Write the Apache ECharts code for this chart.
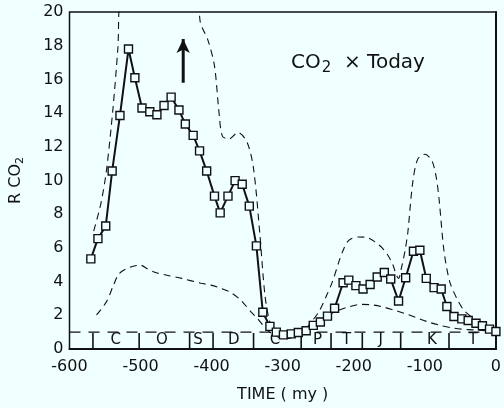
<!DOCTYPE html>
<html>
<head>
<meta charset="utf-8">
<script src="https://cdn.jsdelivr.net/npm/echarts@6/dist/echarts.min.js"></script>
<style>
  html, body { margin: 0; padding: 0; background: #f0ffff; }
  #main { width: 504px; height: 408px; }
</style>
</head>
<body>
<div id="main"></div>
<script>
  // best guess curve, squares (time in my, R CO2)
  var timeMy = [-570, -560, -549, -540, -529, -517, -508, -498, -487, -477,
    -467, -457, -446, -437, -426, -417, -407, -396, -388, -377,
    -367, -357, -347, -337, -328, -318, -309, -299, -288, -278,
    -267, -257, -247, -237, -227, -215, -207, -197, -187, -177,
    -167, -157, -148, -137, -127, -116, -107, -98, -87, -77,
    -69, -59, -48, -39, -28, -19, -9, 0];
  var rco2 = [5.35, 6.55, 7.3, 10.56, 13.86, 17.8, 16.1, 14.3, 14.08, 13.9,
    14.45, 14.95, 14.18, 13.35, 12.68, 11.76, 10.56, 9.07, 8.08, 9.07,
    9.99, 9.78, 8.48, 6.12, 2.18, 1.34, 1.0, 0.84, 0.9, 0.98,
    1.08, 1.4, 1.6, 1.95, 2.42, 3.93, 4.09, 3.76, 3.56, 3.83,
    4.27, 4.54, 4.15, 2.85, 4.23, 5.8, 5.86, 4.19, 3.64, 3.56,
    2.52, 1.93, 1.79, 1.69, 1.53, 1.38, 1.18, 1.04];

  // upper error envelope (dashed), goes off the top between ~-528 and ~-418
  var upperEnv = [[-566, 7.0], [-556, 8.6], [-548, 10.6], [-539, 14.2], [-532, 17.8], [-527, 21],
    [-419, 21], [-416, 19.4], [-405, 18.3], [-396, 16.8], [-390, 14.2], [-385, 12.65], [-376, 12.45],
    [-363, 12.85], [-350, 12.25], [-341, 10.7], [-332, 6.74], [-325, 3.2], [-318, 1.6], [-308, 0.9],
    [-297, 0.65], [-285, 0.75], [-270, 1.1], [-258, 1.7], [-249, 2.22], [-238, 3.2],
    [-230, 4.0], [-221, 5.17], [-216, 5.76], [-207, 6.45], [-193, 6.65], [-180, 6.6],
    [-170, 6.35], [-160, 6.0], [-152, 5.56], [-145, 5.0], [-140, 4.38], [-137, 4.19],
    [-133, 4.8], [-128, 5.8], [-124, 6.9], [-117, 9.9], [-110, 11.27], [-100, 11.56],
    [-90, 11.17], [-84, 10.2], [-80, 8.9], [-73, 5.8], [-65, 4.0], [-55, 3.0], [-45, 2.3],
    [-32, 1.83], [-20, 1.45], [-10, 1.2], [0, 1.04]];

  // lower error envelope (dashed)
  var lowerEnv = [[-562, 2.02], [-548, 2.8], [-538, 3.8], [-530, 4.48], [-515, 4.85], [-500, 4.97],
    [-490, 4.75], [-479, 4.54], [-460, 4.35], [-442, 4.19], [-415, 3.9], [-401, 3.79],
    [-387, 3.6], [-373, 3.35], [-359, 2.9], [-345, 2.22], [-336, 1.83], [-322, 1.14],
    [-309, 0.75], [-298, 0.6], [-285, 0.7], [-270, 1.0], [-253, 1.53], [-240, 1.9],
    [-226, 2.22], [-207, 2.5], [-189, 2.65], [-175, 2.62], [-161, 2.52], [-145, 2.33],
    [-129, 2.12], [-113, 1.88], [-97, 1.63], [-80, 1.42], [-60, 1.24], [-40, 1.15],
    [-23, 1.12], [0, 1.0]];

  var todayLevel = 1;

  // geologic periods strip
  var periodBounds = [-567, -502, -431, -398, -341, -274, -232, -188, -134, -66];
  var periodNames = ['C', 'O', 'S', 'D', 'C', 'P', 'T', 'J', 'K', 'T'];
  var periodLabelX = [-535, -470, -419, -369, -311, -251, -210, -162, -90, -32];

  var xTicks = [-600, -500, -400, -300, -200, -100, 0];
  var yTicks = [0, 2, 4, 6, 8, 10, 12, 14, 16, 18, 20];

  var ink = '#111';
  var font = 'DejaVu Sans';

  var myChart = echarts.init(document.getElementById('main'));

  var option = {
    backgroundColor: '#f0ffff',
    animation: false,
    title: {
      text: '{a|CO}{s|2}{a|  × Today}',
      left: 286,
      top: 46,
      textStyle: {
        fontWeight: 'normal',
        rich: {
          a: { fontFamily: font, fontSize: 20, fontWeight: 'normal', color: ink, lineHeight: 24 },
          s: { fontFamily: font, fontSize: 15, fontWeight: 'normal', color: ink, lineHeight: 24, padding: [10, 0, 0, 1] }
        }
      }
    },
    grid: {
      left: 66, right: 4, top: 12, bottom: 57,
      show: true, borderColor: ink, borderWidth: 1.5
    },
    xAxis: {
      type: 'value',
      min: xTicks[0], max: xTicks[xTicks.length - 1], interval: 100,
      name: 'TIME ( my )',
      nameLocation: 'middle',
      nameGap: 38,
      nameTextStyle: { fontFamily: font, fontSize: 16, color: ink },
      axisLine: { lineStyle: { color: ink, width: 2 } },
      axisTick: { show: false },
      splitLine: { show: false },
      axisLabel: { fontFamily: font, fontSize: 16, color: ink, margin: 10 }
    },
    yAxis: {
      type: 'value',
      min: yTicks[0], max: yTicks[yTicks.length - 1], interval: 2,
      name: 'R CO{s|2}',
      nameLocation: 'middle',
      nameGap: 44,
      nameTextStyle: {
        fontFamily: font, fontSize: 16, color: ink,
        rich: { s: { fontFamily: font, fontSize: 11, color: ink, padding: [8, 0, 0, 0] } }
      },
      axisLine: { show: true, lineStyle: { color: ink, width: 2 } },
      axisTick: { show: false },
      splitLine: { show: false },
      axisLabel: { fontFamily: font, fontSize: 16, color: ink, margin: 6 }
    },
    series: [
      {
        name: 'today',
        type: 'line',
        data: [[xTicks[0], todayLevel], [0, todayLevel]],
        symbol: 'none',
        lineStyle: { color: ink, width: 1.4, type: [11, 8] },
        z: 2
      },
      {
        name: 'upper',
        type: 'line',
        data: upperEnv,
        symbol: 'none',
        smooth: 0.3,
        lineStyle: { color: ink, width: 1.1, type: [7, 5] },
        z: 2
      },
      {
        name: 'lower',
        type: 'line',
        data: lowerEnv,
        symbol: 'none',
        smooth: 0.3,
        lineStyle: { color: ink, width: 1.1, type: [7, 5] },
        z: 2
      },
      {
        name: 'best',
        type: 'line',
        data: timeMy.map(function (t, i) { return [t, rco2[i]]; }),
        symbol: 'rect',
        symbolSize: 8,
        showAllSymbol: true,
        itemStyle: { color: '#f0ffff', borderColor: ink, borderWidth: 1.4 },
        lineStyle: { color: ink, width: 2 },
        z: 4
      },
      {
        name: 'arrow',
        type: 'line',
        data: [
          { value: [-440, 15.8], symbol: 'none' },
          { value: [-440, 18.4], symbol: 'arrow', symbolSize: [10, 14] }
        ],
        itemStyle: { color: ink },
        lineStyle: { color: ink, width: 3 },
        z: 5
      },
      {
        name: 'periodBounds',
        type: 'custom',
        data: periodBounds.map(function (x) { return [x, 0.95]; }),
        renderItem: function (params, api) {
          var p0 = api.coord([api.value(0), 0]);
          var p1 = api.coord([api.value(0), api.value(1)]);
          return {
            type: 'line',
            shape: { x1: p0[0], y1: p0[1], x2: p1[0], y2: p1[1] },
            style: { stroke: ink, lineWidth: 1.6 }
          };
        },
        z: 3
      },
      {
        name: 'periodNames',
        type: 'custom',
        data: periodLabelX.map(function (x, i) { return [x, 0.52, periodNames[i]]; }),
        renderItem: function (params, api) {
          var p = api.coord([api.value(0), api.value(1)]);
          return {
            type: 'text',
            x: p[0], y: p[1],
            style: {
              text: periodNames[params.dataIndex],
              fill: ink,
              font: '15px "DejaVu Sans"',
              align: 'center',
              verticalAlign: 'middle'
            }
          };
        },
        z: 3
      }
    ]
  };

  myChart.setOption(option);
</script>
</body>
</html>
